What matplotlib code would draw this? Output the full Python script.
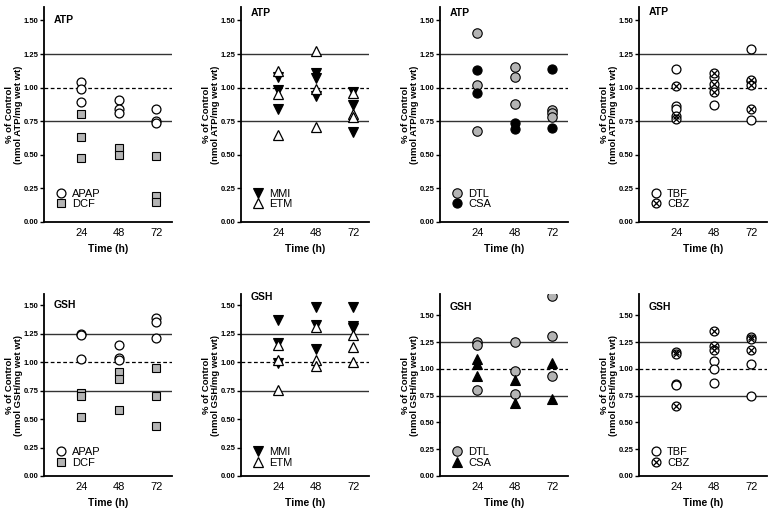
import matplotlib
matplotlib.use("Agg")
import matplotlib.pyplot as plt

plt.rcParams['font.family'] = ['Liberation Sans', 'DejaVu Sans']

times = [24, 48, 72]

# ATP (top row), values per time point
atp_apap = [[1.04, 0.99, 0.89], [0.91, 0.84, 0.81], [0.84, 0.75, 0.74]]
atp_dcf = [[0.80, 0.63, 0.48], [0.55, 0.50], [0.49, 0.19, 0.15]]
atp_mmi = [[1.08, 0.98, 0.84], [1.11, 1.07, 0.94], [0.97, 0.87, 0.67]]
atp_etm = [[1.12, 0.95, 0.65], [1.27, 0.99, 0.71], [0.96, 0.80, 0.78]]
atp_dtl = [[1.41, 1.02, 0.68], [1.15, 1.08, 0.88], [0.83, 0.81, 0.78]]
atp_csa = [[1.13, 0.96], [0.74, 0.69], [1.14, 0.70]]
atp_tbf = [[1.14, 0.86, 0.84], [1.08, 1.00, 0.87], [1.29, 1.05, 0.76]]
atp_cbz = [[1.01, 0.79, 0.77], [1.11, 1.03, 0.97], [1.06, 1.02, 0.84]]

# GSH (bottom row)
gsh_apap = [[1.25, 1.24, 1.03], [1.15, 1.04, 1.02], [1.39, 1.35, 1.21]]
gsh_dcf = [[0.73, 0.70, 0.52], [0.91, 0.85, 0.58], [0.95, 0.70, 0.44]]
gsh_mmi = [[1.37, 1.17, 0.99], [1.49, 1.33, 1.12], [1.49, 1.32, 1.30]]
gsh_etm = [[1.15, 1.02, 0.76], [1.31, 1.02, 0.97], [1.24, 1.13, 1.00]]
gsh_dtl = [[1.25, 1.22, 0.80], [1.25, 0.98, 0.77], [1.68, 1.31, 0.93]]
gsh_csa = [[1.09, 1.05, 0.93], [0.90, 0.68], [1.06, 0.72]]
gsh_tbf = [[0.86, 0.85], [1.07, 1.00, 0.87], [1.05, 0.75]]
gsh_cbz = [[1.16, 1.14, 0.65], [1.35, 1.21, 1.18], [1.30, 1.28, 1.18]]

yticks = [0.0, 0.25, 0.5, 0.75, 1.0, 1.25, 1.5]

#marker styles
GREY = '#b4b4b4'
open_circle = dict(marker='o', ms=6.4, mfc='white', mec='black', mew=0.9)
grey_square = dict(marker='s', ms=6.2, mfc=GREY, mec='black', mew=0.8)
black_down = dict(marker='v', ms=6.8, mfc='black', mec='black', mew=0.8)
open_up = dict(marker='^', ms=7.2, mfc='white', mec='black', mew=0.9)
grey_circle = dict(marker='o', ms=6.8, mfc=GREY, mec='black', mew=0.8)
black_circle = dict(marker='o', ms=6.6, mfc='black', mec='black', mew=0.8)
black_up = dict(marker='^', ms=7.2, mfc='black', mec='black', mew=0.8)
x_mark = dict(marker='x', ms=4.4, mfc='none', mec='black', mew=0.9)


def flat(groups):
    xs, ys = [], []
    for t, vals in zip(times, groups):
        xs += [t] * len(vals)
        ys += vals
    return xs, ys


def draw(ax, title, what, series, ymax, title_y, leg_y):
    ax.axhline(1.25, color='#333333', lw=1.0, zorder=1)
    ax.axhline(0.75, color='#333333', lw=1.0, zorder=1)
    ax.axhline(1.0, color='black', lw=0.9, ls=(0, (3, 2)), zorder=1)
    handles = []
    for name, data, styles in series:
        xs, ys = flat(data)
        hs = []
        for st in styles:
            h, = ax.plot(xs, ys, ls='none', zorder=3, **st)
            hs.append(h)
        handles.append(tuple(hs) if len(hs) > 1 else hs[0])
    ax.set_xlim(0, 82)
    ax.set_ylim(0, ymax)
    ax.set_xticks(times)
    ax.set_xticklabels(['24', '48', '72'], fontsize=8)
    ax.set_yticks(yticks)
    ax.set_yticklabels(['%.2f' % v for v in yticks], fontsize=5.5, fontweight='bold')
    ax.tick_params(axis='x', length=0, pad=4)
    ax.tick_params(axis='y', length=3, width=1.0, pad=1)
    for s in ['top', 'right']:
        ax.spines[s].set_visible(False)
    for s in ['left', 'bottom']:
        ax.spines[s].set_linewidth(1.3)
    ax.set_xlabel('Time (h)', fontsize=7.5, fontweight='bold', labelpad=5)
    ax.set_ylabel('% of Control\n(nmol ' + what + '/mg wet wt)', fontsize=6.8, fontweight='bold',
                  labelpad=0.5, linespacing=1.05)
    ax.text(6, title_y, title, fontsize=7.5, fontweight='bold', va='center', ha='left')
    ax.legend(handles, [s[0] for s in series], loc='lower left', bbox_to_anchor=(0.09, leg_y),
              frameon=False, fontsize=8, handlelength=1.0, handletextpad=0.5,
              labelspacing=0.05, borderpad=0, borderaxespad=0)


fig = plt.figure(figsize=(7.74, 5.13), dpi=100)
lefts = [44, 241, 440, 639]
W, H = 774.0, 513.0
top_axes = [fig.add_axes([l / W, 1 - 222 / H, 128 / W, 215 / H]) for l in lefts]
bot_axes = [fig.add_axes([l / W, 1 - 476 / H, 128 / W, 182 / H]) for l in lefts]

draw(top_axes[0], 'ATP', 'ATP', [('APAP', atp_apap, [open_circle]), ('DCF', atp_dcf, [grey_square])],
     1.6, 1.5, 0.06)
draw(top_axes[1], 'ATP', 'ATP', [('MMI', atp_mmi, [black_down]), ('ETM', atp_etm, [open_up])],
     1.6, 1.555, 0.06)
draw(top_axes[2], 'ATP', 'ATP', [('DTL', atp_dtl, [grey_circle]), ('CSA', atp_csa, [black_circle])],
     1.6, 1.555, 0.06)
draw(top_axes[3], 'ATP', 'ATP', [('TBF', atp_tbf, [open_circle]), ('CBZ', atp_cbz, [open_circle, x_mark])],
     1.6, 1.56, 0.06)

draw(bot_axes[0], 'GSH', 'GSH', [('APAP', gsh_apap, [open_circle]), ('DCF', gsh_dcf, [grey_square])],
     1.6, 1.5, 0.045)
draw(bot_axes[1], 'GSH', 'GSH', [('MMI', gsh_mmi, [black_down]), ('ETM', gsh_etm, [open_up])],
     1.6, 1.57, 0.045)
draw(bot_axes[2], 'GSH', 'GSH', [('DTL', gsh_dtl, [grey_circle]), ('CSA', gsh_csa, [black_up])],
     1.7, 1.58, 0.045)
draw(bot_axes[3], 'GSH', 'GSH', [('TBF', gsh_tbf, [open_circle]), ('CBZ', gsh_cbz, [open_circle, x_mark])],
     1.7, 1.58, 0.045)

fig.savefig('out.png', dpi=100)
